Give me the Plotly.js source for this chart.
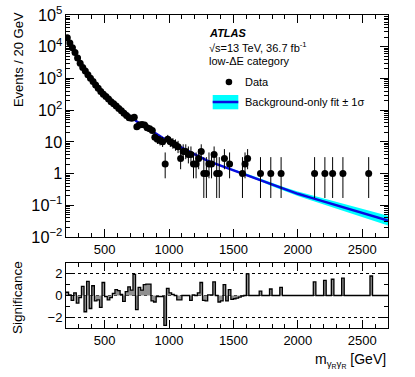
<!DOCTYPE html>
<html>
<head>
<meta charset="utf-8">
<script src="https://cdn.plot.ly/plotly-3.0.1.min.js"></script>
<style>
html, body { margin: 0; padding: 0; background: #fff; }
#plot { width: 415px; height: 377px; }
</style>
</head>
<body>
<div id="plot"></div>
<script>
// ===== data =====

// observed events per 20 GeV bin (bin centres), empty bins left out
const dataX = [210, 230, 250, 270, 290, 310, 330, 350, 370, 390,
    410, 430, 450, 470, 490, 510, 530, 550, 570, 590,
    610, 630, 650, 670, 690, 710, 730, 750, 770, 790,
    810, 830, 850, 870, 890, 910, 930, 950, 970, 990,
    1010, 1030, 1050, 1070, 1090, 1110, 1130, 1150, 1170, 1190,
    1210, 1230, 1250, 1270, 1290, 1310, 1330, 1350, 1370, 1390,
    1430, 1470, 1570, 1590, 1610, 1710, 1790, 1870,
    2130, 2210, 2270, 2350, 2550];
const dataY = [19000, 13000, 9200, 6600, 4400, 3000, 2200, 1700, 1300, 1020,
    800, 620, 490, 390, 320, 270, 225, 185, 160, 135,
    112, 95, 80, 68, 58, 56, 60, 30, 34, 35,
    34, 28, 26, 23, 14, 12, 11, 10, 2, 12,
    10, 9, 8, 7, 3, 5, 5, 4, 4, 2,
    2, 3, 5, 1, 1, 2, 2, 4, 1, 1,
    3, 2, 1, 2, 3, 1, 1, 1,
    1, 1, 1, 1, 1];
// poisson error bars (up / down)
const errHi = [138, 114, 96, 81, 66, 55, 47, 41, 36, 32,
    28, 25, 22, 20, 18, 17, 15.5, 14.1, 13.2, 12.1,
    11.1, 10.3, 9.4, 8.8, 8.1, 8, 8.2, 6.0, 6.3, 6.4,
    6.3, 5.8, 5.6, 5.3, 4.85, 4.58, 4.42, 4.27, 2.64, 4.58,
    4.27, 4.11, 3.95, 3.77, 2.92, 3.38, 3.38, 3.16, 3.16, 2.64,
    2.64, 2.92, 3.38, 2.3, 2.3, 2.64, 2.64, 3.16, 2.3, 2.3,
    2.92, 2.64, 2.3, 2.64, 2.92, 2.3, 2.3, 2.3,
    2.3, 2.3, 2.3, 2.3, 2.3];
const errLo = [138, 114, 96, 81, 66, 55, 47, 41, 36, 32,
    28, 25, 22, 20, 18, 16, 14.5, 13.1, 12.2, 11.1,
    10.1, 9.3, 8.4, 7.8, 7.1, 7, 7.2, 5.0, 5.3, 5.4,
    5.3, 4.8, 4.6, 4.3, 3.7, 3.42, 3.27, 3.11, 1.29, 3.42,
    3.11, 2.94, 2.77, 2.58, 1.63, 2.16, 2.16, 1.91, 1.91, 1.29,
    1.29, 1.63, 2.16, 0.83, 0.83, 1.29, 1.29, 1.91, 0.83, 0.83,
    1.63, 1.29, 0.83, 1.29, 1.63, 0.83, 0.83, 0.83,
    0.83, 0.83, 0.83, 0.83, 0.83];

// background-only fit and its 1 sigma band
const fitX = [200, 250, 300, 350, 400, 450, 500, 550, 600, 650,
    700, 750, 800, 850, 900, 950, 1000, 1100, 1200, 1300,
    1400, 1500, 1600, 1700, 1800, 1900, 2000, 2100, 2200, 2300,
    2400, 2500, 2600, 2700];
const fitY = [22900, 9330, 3550, 1700, 912, 501, 302, 191, 132, 91,
    63, 43.6, 32.4, 24, 17.8, 13.5, 10.5, 6.3, 4.0, 2.5,
    1.78, 1.29, 0.93, 0.65, 0.45, 0.32, 0.23, 0.174, 0.132, 0.10,
    0.076, 0.058, 0.044, 0.033];
const bandHi = [23500, 9590, 3650, 1750, 938, 515, 310, 196, 136, 93.5,
    64.8, 44.8, 33.3, 24.7, 18.3, 13.9, 10.8, 6.6, 4.19, 2.62,
    1.86, 1.38, 1.01, 0.71, 0.505, 0.367, 0.27, 0.209, 0.162, 0.126,
    0.099, 0.077, 0.061, 0.047];
const bandLo = [22300, 9080, 3450, 1650, 887, 487, 294, 186, 128, 88.5,
    61.3, 42.4, 31.5, 23.3, 17.3, 13.1, 10.2, 6.0, 3.82, 2.39,
    1.70, 1.20, 0.86, 0.59, 0.40, 0.279, 0.196, 0.145, 0.107, 0.079,
    0.058, 0.043, 0.032, 0.023];

// significance per 20 GeV bin, first bin 200-220 GeV, last 2680-2700 GeV
const SIG_FIRST_EDGE = 200;
const BIN_WIDTH = 20;
const sigValues = [
    0.3, 0.05, -0.45, 0.25, -0.7, -0.2, 0.85, -1.5, 1.3, -1.2,      // 200-400
    0.9, -0.5, -0.4, -1.1, 1.2, -0.1, -0.4, -0.2, 0.2, 0.55,        // 400-600
    0.45, 0.1, -0.55, 0.35, 0.8, 0.5, 1.95, -1.3, 0.75, 0.5,        // 600-800
    1.0, 1.05, 1.05, -0.5, -0.6, -0.1, -0.1, -0.1, -2.75, 0.65,     // 800-1000
    0.25, 0.1, 0.0, -0.4, -0.4, 0.0, 0.0, 0.0, -0.45, 0.05,         // 1000-1200
    0.0, 0.25, 1.2, -0.45, -0.5, 0.05, 0.05, 1.25, 0.0, -0.6,       // 1200-1400
    -0.5, 1.0, -0.5, 0.55, -0.35, -0.3, -0.25, -0.15, -0.05, 0.0,   // 1400-1600
    2.0, 0, 0, 0, 0, 0.4, 0, 0, 0, 0.6,                             // 1600-1800
    0, 0, 0, 0.75, 0, 0, 0, 0, 0, 0,                                // 1800-2000
    0, 0, 0, 0, 0, 0, 1.25, 0, 0, 0,                                // 2000-2200
    1.4, 0, 0, 1.5, 0, 0, 0, 1.6, 0, 0,                             // 2200-2400
    0, 0, 0, 0, 0, 0, 0, 0, 1.8, 0,                                 // 2400-2600
    0, 0, 0, 0, 0                                                   // 2600-2700
];

// ===== plotting =====

const FONT = 'Liberation Sans, Arial, Helvetica, sans-serif';

// step outline needs bin edges: one point per lower edge plus the final edge
const sigEdges = sigValues.map((_, i) => SIG_FIRST_EDGE + i * BIN_WIDTH);
sigEdges.push(SIG_FIRST_EDGE + sigValues.length * BIN_WIDTH);
const sigSteps = sigValues.concat([sigValues[sigValues.length - 1]]);

const traces = [
    {   // lower edge of band
        x: fitX, y: bandLo, xaxis: 'x', yaxis: 'y',
        mode: 'lines', line: { width: 0, color: '#00ffff' },
        showlegend: false, hoverinfo: 'skip'
    },
    {   // upper edge of band, filled down to lower edge
        x: fitX, y: bandHi, xaxis: 'x', yaxis: 'y',
        mode: 'lines', line: { width: 0, color: '#00ffff' },
        fill: 'tonexty', fillcolor: '#00ffff',
        showlegend: false, hoverinfo: 'skip'
    },
    {
        x: fitX, y: fitY, xaxis: 'x', yaxis: 'y',
        mode: 'lines', line: { width: 2.5, color: '#0a0ae0' },
        name: 'Background-only fit ± 1σ', showlegend: false
    },
    {
        x: dataX, y: dataY, xaxis: 'x', yaxis: 'y',
        mode: 'markers', name: 'Data', showlegend: false,
        marker: { color: 'black', size: 7 },
        error_y: {
            type: 'data', symmetric: false,
            array: errHi, arrayminus: errLo,
            color: 'black', thickness: 1, width: 0
        }
    },
    {
        x: sigEdges, y: sigSteps, xaxis: 'x2', yaxis: 'y2',
        mode: 'lines', line: { shape: 'hv', color: 'black', width: 1.3 },
        fill: 'tozeroy', fillcolor: '#909090',
        showlegend: false
    }
];

const axisCommon = {
    showline: true, linecolor: 'black', linewidth: 1,
    mirror: 'allticks', ticks: 'inside', ticklen: 8, tickcolor: 'black',
    showgrid: false, zeroline: false,
    tickfont: { family: FONT, size: 13, color: 'black' }
};

const xCommon = Object.assign({}, axisCommon, {
    range: [200, 2700], tick0: 0, dtick: 500,
    minor: { ticks: 'inside', ticklen: 4, dtick: 100, tickcolor: 'black' }
});

const layout = {
    width: 415, height: 377,
    margin: { l: 66, r: 27, t: 15, b: 49 },
    paper_bgcolor: 'white', plot_bgcolor: 'white',
    font: { family: FONT, size: 13, color: 'black' },
    showlegend: false,
    xaxis: Object.assign({}, xCommon, { anchor: 'y', domain: [0, 1] }),
    yaxis: Object.assign({}, axisCommon, {
        anchor: 'x', domain: [0.2907, 1],
        type: 'log', range: [-2, 5], dtick: 1, exponentformat: 'power',
        minor: { ticks: 'inside', ticklen: 4, dtick: 'D1', tickcolor: 'black' }
    }),
    xaxis2: Object.assign({}, xCommon, { anchor: 'y2', domain: [0, 1], matches: 'x' }),
    yaxis2: Object.assign({}, axisCommon, {
        anchor: 'x2', domain: [0, 0.2077],
        range: [-3, 3], tickvals: [-2, 0, 2],
        showgrid: true, griddash: 'dot', gridcolor: 'black', gridwidth: 1,
        minor: { ticks: 'inside', ticklen: 4, dtick: 1, tickcolor: 'black', showgrid: false }
    }),
    annotations: [
        {   // y title, top panel
            text: 'Events / 20 GeV', xref: 'paper', yref: 'paper',
            x: -0.149, y: 0.856, textangle: -90, showarrow: false,
            xanchor: 'center', yanchor: 'middle', font: { size: 13 }
        },
        {   // y title, ratio panel
            text: 'Significance', xref: 'paper', yref: 'paper',
            x: -0.149, y: 0.096, textangle: -90, showarrow: false,
            xanchor: 'center', yanchor: 'middle', font: { size: 13.5 }
        },
        {   // x title
            text: 'm<sub>γ<sub>R</sub>γ<sub>R</sub></sub> [GeV]', xref: 'paper', yref: 'paper',
            x: 1, y: -0.105, showarrow: false,
            xanchor: 'right', yanchor: 'middle', font: { size: 14 }
        },
        {
            text: '<b><i>ATLAS</i></b>', xref: 'paper', yref: 'paper',
            x: 0.438, y: 0.9425, showarrow: false,
            xanchor: 'left', yanchor: 'middle', font: { size: 11 }
        },
        {
            text: '√s=13 TeV, 36.7 fb<sup>-1</sup>', xref: 'paper', yref: 'paper',
            x: 0.438, y: 0.8978, showarrow: false,
            xanchor: 'left', yanchor: 'middle', font: { size: 11 }
        },
        {
            text: 'low-ΔE category', xref: 'paper', yref: 'paper',
            x: 0.438, y: 0.853, showarrow: false,
            xanchor: 'left', yanchor: 'middle', font: { size: 11 }
        },
        {
            text: 'Data', xref: 'paper', yref: 'paper',
            x: 0.5497, y: 0.786, showarrow: false,
            xanchor: 'left', yanchor: 'middle', font: { size: 11 }
        },
        {
            text: 'Background-only fit ± 1σ', xref: 'paper', yref: 'paper',
            x: 0.5497, y: 0.722, showarrow: false,
            xanchor: 'left', yanchor: 'middle', font: { size: 11 }
        }
    ],
    shapes: [
        {   // legend marker for data
            type: 'circle', xref: 'paper', yref: 'paper',
            xsizemode: 'pixel', ysizemode: 'pixel',
            xanchor: 0.506, yanchor: 0.786,
            x0: -3.3, x1: 3.3, y0: -3.3, y1: 3.3,
            fillcolor: 'black', line: { width: 0 }
        },
        {   // legend swatch for band
            type: 'rect', xref: 'paper', yref: 'paper',
            x0: 0.4556, x1: 0.5351, y0: 0.6987, y1: 0.7444,
            fillcolor: '#00ffff', line: { width: 0 }
        },
        {
            type: 'line', xref: 'paper', yref: 'paper',
            x0: 0.4556, x1: 0.5351, y0: 0.722, y1: 0.722,
            line: { color: '#0a0ae0', width: 2.5 }
        }
    ]
};

const config = { displayModeBar: false, staticPlot: true };

Plotly.newPlot('plot', traces, layout, config);
</script>
</body>
</html>
